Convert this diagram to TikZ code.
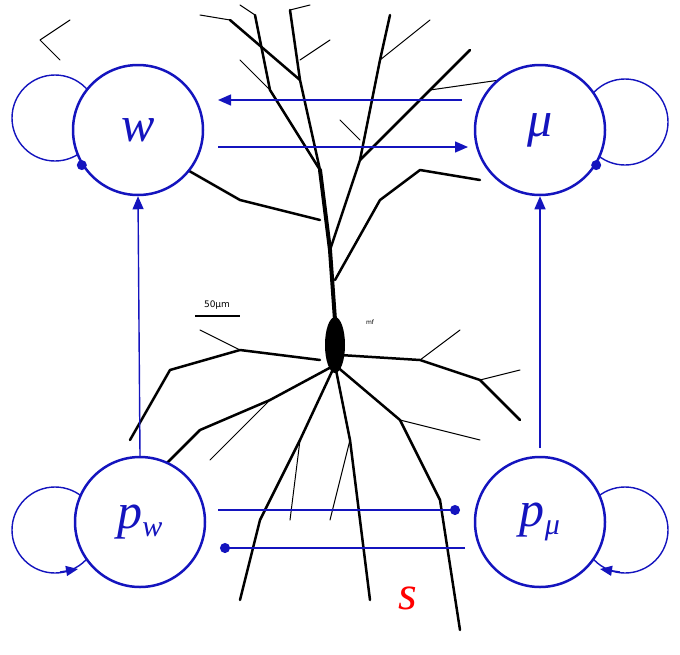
\documentclass[tikz,border=0pt]{standalone}
\usepackage{fontspec}
\setmainfont{Liberation Serif}
\newfontfamily\djvfont{DejaVu Sans}
\usetikzlibrary{arrows.meta}
\definecolor{nb}{RGB}{20,20,190}
\tikzset{
 var/.style={circle,draw=nb,fill=white,line width=2.5pt,minimum size=130pt,inner sep=0pt,text=nb,font=\fontsize{50}{50}\selectfont\itshape},
 link/.style={draw=nb,line width=1.4pt},
 arr/.style={link,-{Triangle[length=13pt,width=11pt]}},
 dotl/.style={link,-{Circle[length=10pt]}},
 loopc/.style={draw=nb,line width=1.4pt},
 den/.style={black,line width=2.5pt,line cap=round,line join=round},
 thin/.style={black,line width=1pt,line cap=round}
}
\begin{document}
\begin{tikzpicture}[x=1pt,y=-1pt]
\useasboundingbox (0,0) rectangle (680,654);
% neuron sketch
\fill (335,345) ellipse (10 and 28);
\draw[den,line width=4pt] (335,320) -- (330,250) -- (320,170);
\draw[den] (320,170) -- (300,80) -- (290,10);
\draw[den] (330,250) -- (360,160) -- (380,60) -- (390,15);
\draw[den] (320,170) -- (270,90) -- (255,15);
\draw[den] (300,80) -- (230,20);
\draw[den] (360,160) -- (430,90) -- (470,50);
\draw[den] (320,220) -- (240,200) -- (170,160) -- (150,100);
\draw[den] (335,280) -- (380,200) -- (420,170) -- (480,180);
\draw[thin] (380,60) -- (430,20) (270,90) -- (240,60) (430,90) -- (500,80) (290,10) -- (310,5)
 (200,15) -- (230,20) (255,15) -- (240,5) (340,120) -- (360,140) (300,60) -- (330,40);
\draw[den] (335,365) -- (270,400) -- (200,430) -- (150,480);
\draw[den] (335,365) -- (300,440) -- (260,520) -- (240,600);
\draw[den] (335,365) -- (350,440) -- (360,520) -- (370,600);
\draw[den] (335,365) -- (400,420) -- (440,500) -- (460,630);
\draw[den] (340,355) -- (420,360) -- (480,380) -- (520,420);
\draw[den] (320,360) -- (240,350) -- (170,370) -- (130,440);
\draw[thin] (270,400) -- (210,460) (400,420) -- (480,440) (300,440) -- (290,520) (420,360) -- (460,330)
 (240,350) -- (200,330) (350,440) -- (330,520) (480,380) -- (520,370) (40,40) -- (70,20) (60,60) -- (40,40);
\draw[line width=1.5pt] (195,316) -- (240,316);
\node[font=\djvfont\fontsize{9}{9}\selectfont] (bar) at (217,305) {50μm};
\node[font=\djvfont\fontsize{6}{6}\selectfont] (mf) at (370,322) {mf};
% self loops
\coordinate (lw) at (55,118); \coordinate (lm) at (625,122);
\coordinate (lpw) at (55,530); \coordinate (lpm) at (625,530);
\draw[loopc] (lw) circle (43);
\draw[loopc] (lm) circle (43);
\draw[loopc] (lpw) circle (43);
\draw[loopc] (lpm) circle (43);
% nodes
\node[var] (w) at (138,130) {w};
\node[var] (mu) at (540,130) {μ};
\node[var] (pw) at (140,522) {p\raisebox{-8pt}{\fontsize{30}{30}\selectfont w}};
\node[var] (pm) at (540,522) {p\raisebox{-8pt}{\fontsize{30}{30}\selectfont μ}};
\node[text=red,font=\fontsize{48}{48}\selectfont\itshape] (s) at (408,598) {s};
\fill[nb] (w.212) circle (5);
\fill[nb] (mu.328) circle (5);
\coordinate (pa1) at (60,572); \coordinate (pa2) at (78,569);
\draw[loopc,-{Triangle[length=12pt,width=10pt]}] (pa1) -- (pa2);
\coordinate (pb1) at (620,572); \coordinate (pb2) at (600,569);
\draw[loopc,-{Triangle[length=12pt,width=10pt]}] (pb1) -- (pb2);
% connectors
\coordinate (a1) at (462,100); \coordinate (a2) at (218,100);
\draw[arr] (a1) -- (a2);
\coordinate (b1) at (218,147); \coordinate (b2) at (468,147);
\draw[arr] (b1) -- (b2);
\draw[arr] (pw.north) -- (w.south);
\coordinate (c1) at (540,448);
\draw[arr] (c1) -- (mu.south);
\coordinate (d1) at (218,510); \coordinate (d2) at (460,510);
\draw[dotl] (d1) -- (d2);
\coordinate (e1) at (465,548); \coordinate (e2) at (220,548);
\draw[dotl] (e1) -- (e2);
\end{tikzpicture}
\end{document}
